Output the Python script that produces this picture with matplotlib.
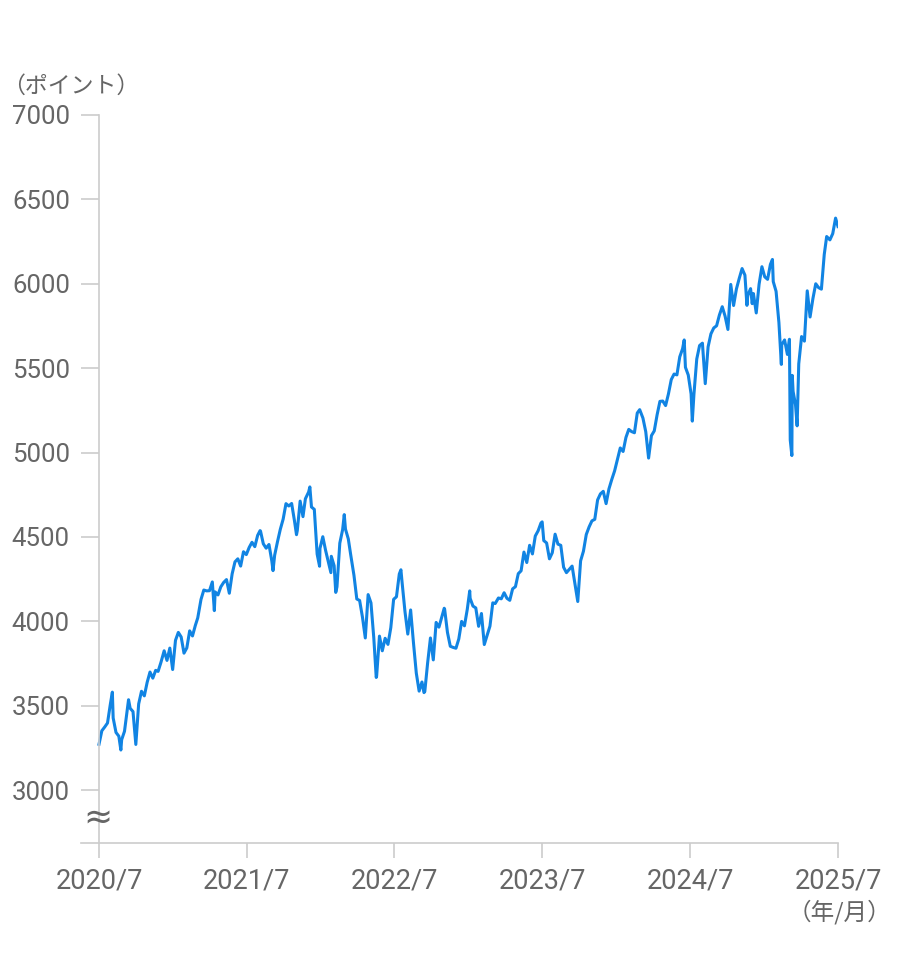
import matplotlib.pyplot as plt
import matplotlib.dates as mdates
import pandas as pd

# S&P 500 closes (roughly weekly, with a few daily turning points)
dates_2020 = ["2020-07-31", "2020-08-07", "2020-08-14", "2020-08-21", "2020-08-28", "2020-09-02",
              "2020-09-04", "2020-09-11", "2020-09-18", "2020-09-23", "2020-09-25", "2020-10-02",
              "2020-10-09", "2020-10-12", "2020-10-16", "2020-10-23", "2020-10-30", "2020-11-06",
              "2020-11-13", "2020-11-20", "2020-11-27", "2020-12-04", "2020-12-11", "2020-12-18",
              "2020-12-24", "2020-12-31"]
values_2020 = [3271, 3351, 3373, 3397, 3508, 3580,
               3427, 3341, 3319, 3237, 3298, 3348,
               3477, 3535, 3484, 3465, 3270, 3510,
               3585, 3558, 3638, 3699, 3663, 3709,
               3703, 3756]

dates_2021 = ["2021-01-08", "2021-01-15", "2021-01-22", "2021-01-29", "2021-02-05", "2021-02-12",
              "2021-02-19", "2021-02-26", "2021-03-05", "2021-03-12", "2021-03-19", "2021-03-26",
              "2021-04-01", "2021-04-09", "2021-04-16", "2021-04-23", "2021-04-30", "2021-05-07",
              "2021-05-12", "2021-05-14", "2021-05-21", "2021-05-28", "2021-06-04", "2021-06-11",
              "2021-06-18", "2021-06-25", "2021-07-02", "2021-07-09", "2021-07-16", "2021-07-23",
              "2021-07-30", "2021-08-06", "2021-08-13", "2021-08-20", "2021-08-27", "2021-09-02",
              "2021-09-03", "2021-09-10", "2021-09-17", "2021-09-24", "2021-10-01", "2021-10-04",
              "2021-10-08", "2021-10-15", "2021-10-22", "2021-10-29", "2021-11-05", "2021-11-12",
              "2021-11-19", "2021-11-26", "2021-12-01", "2021-12-03", "2021-12-10", "2021-12-17",
              "2021-12-23", "2021-12-31"]
values_2021 = [3825, 3768, 3841, 3714, 3887, 3934,
               3907, 3811, 3842, 3943, 3913, 3975,
               4020, 4129, 4185, 4180, 4181, 4233,
               4063, 4174, 4156, 4204, 4230, 4247,
               4166, 4281, 4352, 4370, 4327, 4412,
               4395, 4437, 4468, 4442, 4509, 4537,
               4535, 4459, 4433, 4455, 4357, 4300,
               4391, 4471, 4545, 4605, 4697, 4683,
               4698, 4595, 4513, 4538, 4712, 4620,
               4726, 4766]

dates_2022 = ["2022-01-03", "2022-01-07", "2022-01-14", "2022-01-21", "2022-01-27", "2022-01-28",
              "2022-02-04", "2022-02-11", "2022-02-18", "2022-02-24", "2022-02-25", "2022-03-04",
              "2022-03-08", "2022-03-11", "2022-03-18", "2022-03-25", "2022-03-29", "2022-04-01",
              "2022-04-08", "2022-04-14", "2022-04-22", "2022-04-29", "2022-05-06", "2022-05-13",
              "2022-05-20", "2022-05-27", "2022-06-03", "2022-06-10", "2022-06-16", "2022-06-17",
              "2022-06-24", "2022-07-01", "2022-07-08", "2022-07-15", "2022-07-22", "2022-07-29",
              "2022-08-05", "2022-08-12", "2022-08-16", "2022-08-19", "2022-08-26", "2022-09-02",
              "2022-09-09", "2022-09-16", "2022-09-23", "2022-09-30", "2022-10-07", "2022-10-12",
              "2022-10-14", "2022-10-21", "2022-10-28", "2022-11-04", "2022-11-11", "2022-11-18",
              "2022-11-25", "2022-12-01", "2022-12-02", "2022-12-09", "2022-12-16", "2022-12-23",
              "2022-12-30"]
values_2022 = [4796, 4677, 4663, 4398, 4326, 4432,
               4501, 4419, 4349, 4288, 4385, 4329,
               4171, 4204, 4463, 4543, 4632, 4546,
               4488, 4393, 4272, 4132, 4123, 4024,
               3901, 4158, 4109, 3901, 3667, 3675,
               3912, 3825, 3899, 3863, 3962, 4130,
               4145, 4280, 4305, 4228, 4058, 3924,
               4067, 3873, 3693, 3586, 3640, 3577,
               3583, 3753, 3901, 3771, 3993, 3965,
               4026, 4077, 4072, 3934, 3852, 3845,
               3840]

dates_2023 = ["2023-01-06", "2023-01-13", "2023-01-20", "2023-01-27", "2023-02-02", "2023-02-03",
              "2023-02-10", "2023-02-17", "2023-02-24", "2023-03-03", "2023-03-10", "2023-03-17",
              "2023-03-24", "2023-03-31", "2023-04-06", "2023-04-14", "2023-04-21", "2023-04-28",
              "2023-05-05", "2023-05-12", "2023-05-19", "2023-05-26", "2023-06-02", "2023-06-09",
              "2023-06-16", "2023-06-23", "2023-06-30", "2023-07-07", "2023-07-14", "2023-07-21",
              "2023-07-28", "2023-07-31", "2023-08-04", "2023-08-11", "2023-08-18", "2023-08-25",
              "2023-09-01", "2023-09-08", "2023-09-15", "2023-09-22", "2023-09-29", "2023-10-06",
              "2023-10-13", "2023-10-20", "2023-10-27", "2023-11-03", "2023-11-10", "2023-11-17",
              "2023-11-24", "2023-12-01", "2023-12-08", "2023-12-15", "2023-12-22", "2023-12-29"]
values_2023 = [3895, 3999, 3973, 4071, 4180, 4136,
               4090, 4079, 3970, 4046, 3862, 3917,
               3971, 4109, 4105, 4138, 4133, 4169,
               4136, 4124, 4192, 4205, 4282, 4299,
               4410, 4348, 4450, 4399, 4505, 4536,
               4582, 4589, 4478, 4464, 4370, 4406,
               4516, 4457, 4450, 4320, 4288, 4308,
               4327, 4224, 4117, 4358, 4415, 4514,
               4559, 4595, 4604, 4719, 4755, 4770]

dates_2024 = ["2024-01-05", "2024-01-12", "2024-01-19", "2024-01-26", "2024-02-02", "2024-02-09",
              "2024-02-16", "2024-02-23", "2024-03-01", "2024-03-08", "2024-03-15", "2024-03-22",
              "2024-03-28", "2024-04-05", "2024-04-12", "2024-04-19", "2024-04-26", "2024-05-03",
              "2024-05-10", "2024-05-17", "2024-05-24", "2024-05-31", "2024-06-07", "2024-06-14",
              "2024-06-21", "2024-06-28", "2024-07-05", "2024-07-12", "2024-07-16", "2024-07-19",
              "2024-07-26", "2024-08-02", "2024-08-05", "2024-08-09", "2024-08-16", "2024-08-23",
              "2024-08-30", "2024-09-06", "2024-09-13", "2024-09-20", "2024-09-27", "2024-10-04",
              "2024-10-11", "2024-10-18", "2024-10-25", "2024-11-01", "2024-11-08", "2024-11-15",
              "2024-11-22", "2024-11-29", "2024-12-06", "2024-12-13", "2024-12-18", "2024-12-20",
              "2024-12-27", "2024-12-31"]
values_2024 = [4697, 4784, 4840, 4891, 4959, 5027,
               5006, 5089, 5137, 5124, 5117, 5234,
               5254, 5204, 5123, 4967, 5100, 5128,
               5223, 5303, 5305, 5278, 5347, 5432,
               5465, 5460, 5567, 5615, 5667, 5505,
               5459, 5347, 5186, 5344, 5554, 5634,
               5648, 5408, 5626, 5703, 5738, 5751,
               5815, 5864, 5808, 5729, 5996, 5871,
               5969, 6032, 6090, 6051, 5872, 5931,
               5971, 5882]

dates_2025 = ["2025-01-03", "2025-01-10", "2025-01-17", "2025-01-24", "2025-01-31", "2025-02-07",
              "2025-02-14", "2025-02-19", "2025-02-21", "2025-02-28", "2025-03-07", "2025-03-13",
              "2025-03-14", "2025-03-21", "2025-03-28", "2025-04-02", "2025-04-03", "2025-04-04",
              "2025-04-08", "2025-04-09", "2025-04-11", "2025-04-17", "2025-04-21", "2025-04-25",
              "2025-05-02", "2025-05-09", "2025-05-16", "2025-05-23", "2025-05-30", "2025-06-06",
              "2025-06-13", "2025-06-20", "2025-06-27", "2025-07-03", "2025-07-11", "2025-07-18",
              "2025-07-25", "2025-07-31"]
values_2025 = [5942, 5827, 5997, 6101, 6041, 6026,
               6115, 6144, 6013, 5955, 5770, 5522,
               5639, 5667, 5581, 5671, 5397, 5074,
               4982, 5457, 5363, 5283, 5158, 5525,
               5687, 5660, 5958, 5803, 5912, 6000,
               5977, 5968, 6173, 6280, 6260, 6297,
               6389, 6339]

y_ticks = [3000, 3500, 4000, 4500, 5000, 5500, 6000, 6500, 7000]
x_tick_dates = ["2020-07-31", "2021-07-31", "2022-07-31", "2023-07-31", "2024-07-31", "2025-07-31"]
x_tick_labels = ["2020/7", "2021/7", "2022/7", "2023/7", "2024/7", "2025/7"]


def draw_chart():
    dates = pd.to_datetime(dates_2020 + dates_2021 + dates_2022 + dates_2023 + dates_2024 + dates_2025)
    values = values_2020 + values_2021 + values_2022 + values_2023 + values_2024 + values_2025

    text_color = "#666666"
    axis_color = "#cccccc"

    fig = plt.figure(figsize=(9.2, 9.66), dpi=100)
    ax = fig.add_axes([81 / 920, 123 / 966, 757 / 920, 728 / 966])

    ax.plot(dates, values, color="#1184e3", linewidth=2.2, solid_joinstyle="round")

    start = mdates.date2num(dates[0])
    end = mdates.date2num(dates[-1])
    ax.set_xlim(start - (end - start) * 18 / 739, end)
    ax.set_ylim(2686, 7000)

    for side in ["top", "right"]:
        ax.spines[side].set_visible(False)
    ax.spines["left"].set_position(("data", start))
    ax.spines["left"].set_bounds(2686, 7000)
    for side in ["left", "bottom"]:
        ax.spines[side].set_color(axis_color)
        ax.spines[side].set_linewidth(1.2)

    ax.set_yticks(y_ticks)
    ax.set_yticklabels([str(v) for v in y_ticks])
    ax.set_xticks(pd.to_datetime(x_tick_dates))
    ax.set_xticklabels(x_tick_labels)

    ax.tick_params(axis="y", length=13, width=1.2, color=axis_color, pad=8,
                   labelsize=18.5, labelcolor=text_color)
    ax.tick_params(axis="x", length=11, width=1.2, color=axis_color, pad=7,
                   labelsize=19.5, labelcolor=text_color)
    for lab in ax.get_xticklabels() + ax.get_yticklabels():
        lab.set_family(["Roboto", "DejaVu Sans"])

    # unit labels and axis break mark
    fig.text(2 / 920, 1 - 86 / 966, "（ポイント）", fontsize=16.5, color=text_color,
             ha="left", va="center", family=["Noto Sans CJK JP", "DejaVu Sans"])
    fig.text(839 / 920, 1 - 912 / 966, "（年/月）", fontsize=17, color=text_color,
             ha="center", va="center", family=["Noto Sans CJK JP", "DejaVu Sans"])
    fig.text(98 / 920, 1 - 819 / 966, "≈", fontsize=25, color=text_color,
             ha="center", va="center", family=["DejaVu Sans"])

    fig.savefig("out.png", dpi=100)


if __name__ == "__main__":
    draw_chart()
